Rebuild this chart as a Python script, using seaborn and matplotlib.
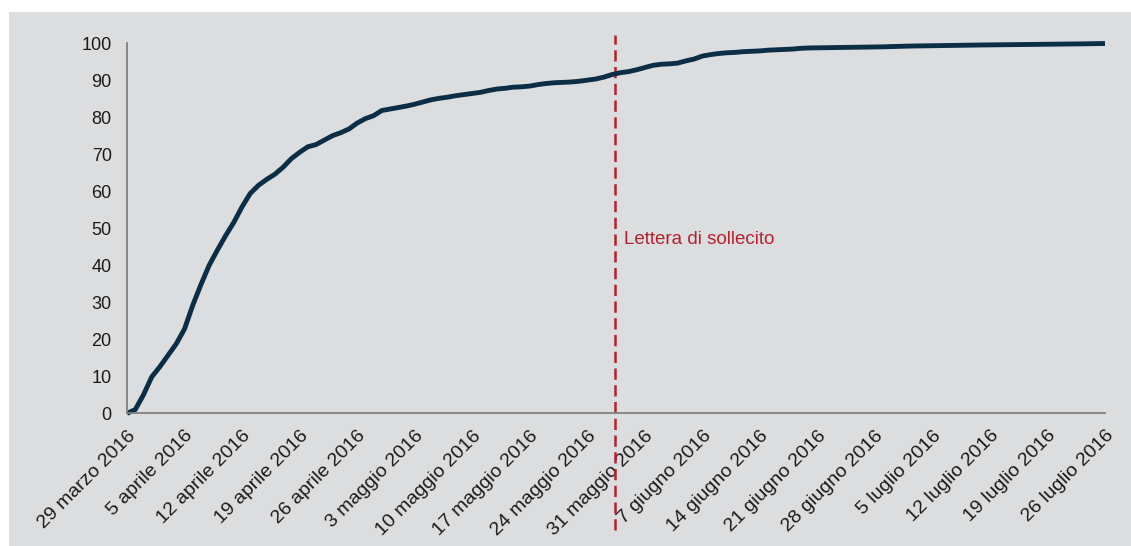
import matplotlib
matplotlib.use("Agg")
import matplotlib.pyplot as plt
import matplotlib.patches as mpatches
import seaborn as sns
import pandas as pd
import numpy as np

# ---- data ----
start_date = "2016-03-29"
day_offsets = [0, 1, 2, 3, 4, 5, 6, 7, 8, 9, 10, 11, 12, 13, 14, 15, 16, 17, 18, 19,
               20, 21, 22, 23, 24, 25, 26, 27, 28, 29, 30, 31, 32, 33, 34, 35, 36, 37, 38, 39,
               40, 41, 42, 43, 44, 45, 46, 47, 48, 49, 50, 51, 52, 53, 54, 55, 56, 57, 58, 59,
               60, 61, 62, 63, 64, 65, 66, 67, 68, 69, 70, 71, 72, 73, 74, 75, 76, 77, 78, 79,
               80, 81, 82, 83, 86, 89, 92, 95, 98, 101, 104, 108, 112, 116, 119]
pct_values = [0.0, 1.0, 5.0, 9.8, 12.6, 15.7, 18.8, 22.8, 29.2, 34.8, 40.0, 44.1, 48.0, 51.6, 55.8, 59.4, 61.6, 63.2, 64.6, 66.5,
              68.8, 70.5, 72.0, 72.6, 73.8, 75.0, 75.8, 76.8, 78.4, 79.6, 80.4, 81.8, 82.2, 82.6, 83.0, 83.5, 84.1, 84.7, 85.1, 85.4,
              85.8, 86.1, 86.4, 86.7, 87.2, 87.6, 87.8, 88.1, 88.2, 88.4, 88.8, 89.1, 89.3, 89.4, 89.5, 89.7, 90.0, 90.3, 90.8, 91.5,
              92.0, 92.3, 92.8, 93.4, 94.0, 94.3, 94.4, 94.6, 95.2, 95.7, 96.5, 96.9, 97.2, 97.4, 97.5, 97.7, 97.8, 97.9, 98.1, 98.2,
              98.3, 98.4, 98.6, 98.7, 98.8, 98.9, 99.0, 99.2, 99.3, 99.4, 99.5, 99.6, 99.7, 99.8, 99.9]
tick_labels = ["29 marzo 2016", "5 aprile 2016", "12 aprile 2016", "19 aprile 2016", "26 aprile 2016",
               "3 maggio 2016", "10 maggio 2016", "17 maggio 2016", "24 maggio 2016", "31 maggio 2016",
               "7 giugno 2016", "14 giugno 2016", "21 giugno 2016", "28 giugno 2016", "5 luglio 2016",
               "12 luglio 2016", "19 luglio 2016", "26 luglio 2016"]
y_ticks = [0, 10, 20, 30, 40, 50, 60, 70, 80, 90, 100]
reminder_date = "2016-05-27"
reminder_label = "Lettera di sollecito"

# ---- build ----
base = pd.Timestamp(start_date)
df = pd.DataFrame({
    "data": [base + pd.Timedelta(days=d) for d in day_offsets],
    "valore": pct_values,
})
tick_dates = pd.date_range(base, periods=len(tick_labels), freq="7D")

sns.set_theme(style="white")
plt.rcParams["font.family"] = ["Liberation Sans", "DejaVu Sans"]

bg = "#dcdddf"
fig = plt.figure(figsize=(11.31, 5.46), dpi=100, facecolor="white")
fig.patches.append(mpatches.Rectangle((9 / 1131, 0), 1 - 9 / 1131, 1 - 12 / 546,
                                      transform=fig.transFigure, facecolor=bg,
                                      edgecolor="none", zorder=-10))
ax = fig.add_axes([0.1123, 0.243, 0.8647, 0.678])
ax.set_facecolor(bg)

sns.lineplot(data=df, x="data", y="valore", ax=ax, color="#0b2d45",
             linewidth=3.5, clip_on=False, solid_capstyle="butt")

ax.set_xlim(tick_dates[0], tick_dates[-1])
ax.set_ylim(0, 100)
ax.set_yticks(y_ticks)
ax.set_xticks(tick_dates)
ax.set_xticklabels(tick_labels, rotation=45, ha="right", va="top",
                   rotation_mode="anchor")
ax.tick_params(axis="both", which="major", direction="out", length=5, width=1.3,
               color="#7f7f7f", labelcolor="#1a1a1a")
ax.tick_params(axis="x", pad=5, labelsize=14)
ax.tick_params(axis="y", pad=6, labelsize=13)
ax.set_xlabel("")
ax.set_ylabel("")
for s in ["top", "right"]:
    ax.spines[s].set_visible(False)
for s in ["left", "bottom"]:
    ax.spines[s].set_color("#7f7f7f")
    ax.spines[s].set_linewidth(1.3)

red = "#b5202e"
ax.axvline(pd.Timestamp(reminder_date) + pd.Timedelta(hours=8), ymin=-0.315, ymax=1.022,
           color=red, linestyle=(0, (4.5, 2.2)), linewidth=1.8, clip_on=False, zorder=1)
ax.text(pd.Timestamp(reminder_date) + pd.Timedelta(days=1.5), 47.0, reminder_label,
        color=red, fontsize=13.5, ha="left", va="center")

fig.savefig("out.png", dpi=100, facecolor="white")
